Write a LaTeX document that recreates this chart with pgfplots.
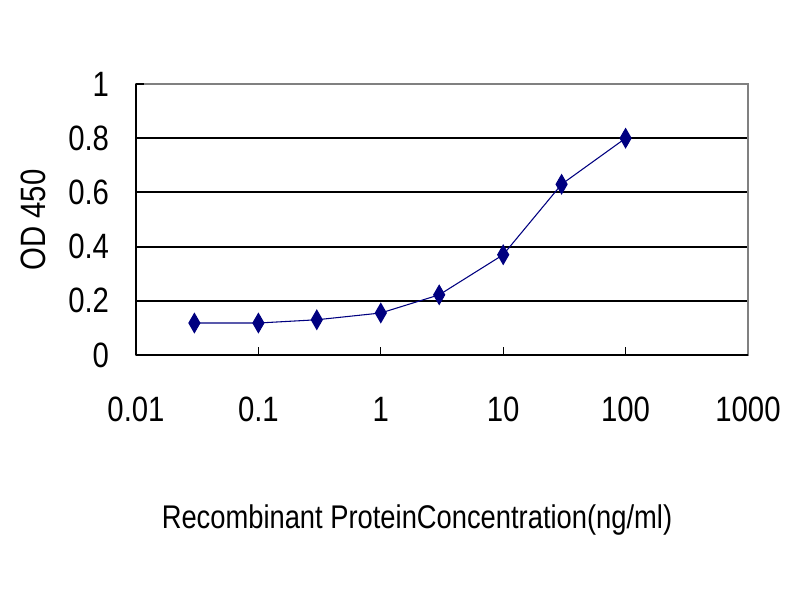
\documentclass[border=0pt]{standalone}
\usepackage{pgfplots}
\pgfplotsset{compat=1.18}
\usepackage{fontspec}
\setmainfont{Liberation Sans}
\definecolor{navyline}{RGB}{0,0,128}
\definecolor{boxgray}{RGB}{128,128,128}
\newcommand{\tl}[1]{\scalebox{1}[1.2]{#1}}
\begin{document}
\begin{tikzpicture}
\useasboundingbox[fill=white] (0,0) rectangle (600pt,450pt);
\begin{axis}[
    at={(102pt,183.75pt)}, anchor=south west,
    scale only axis,
    width=459pt, height=203.25pt,
    xmode=log,
    xmin=0.01, xmax=1000,
    ymin=0, ymax=1,
    xtick={0.01,0.1,1,10,100,1000},
    xticklabels={\tl{0.01},\tl{0.1},\tl{1},\tl{10},\tl{100},\tl{1000}},
    xminorticks=false,
    ytick={0,0.2,0.4,0.6,0.8},
    yticklabels={\tl{0},\tl{0.2},\tl{0.4},\tl{0.6},\tl{0.8}},
    extra y ticks={1},
    extra y tick labels={\tl{1}},
    extra y tick style={grid=none},
    tick align=inside,
    tick pos=left,
    major tick length=6pt,
    tick style={black, line width=0.8pt},
    ymajorgrids,
    grid style={black, line width=1.5pt},
    axis line style={boxgray, line width=1pt},
    ticklabel style={font=\fontsize{22}{22}\selectfont, inner sep=0pt},
    xticklabel style={anchor=center, yshift=-41pt},
    yticklabel style={anchor=east, xshift=-20pt},
    clip=false,
]
\addplot[navyline, line width=0.8pt, mark=diamond*, mark size=5.5pt,
    mark options={yscale=1.3, fill=navyline}] coordinates {
    (0.03,0.118) (0.1,0.118) (0.3,0.130) (1,0.155)
    (3,0.222) (10,0.37) (30,0.63) (100,0.80)
};
\draw[black, line width=1.2pt] (rel axis cs:0,0) -- (rel axis cs:0,1);
\draw[black, line width=1.2pt] (rel axis cs:0,0) -- (rel axis cs:1,0);
\end{axis}
\node[font=\fontsize{20.5}{20.5}\selectfont] at (312.75pt,60pt)
    {\tl{Recombinant ProteinConcentration(ng/ml)}};
\node[font=\fontsize{22}{22}\selectfont, rotate=90] at (24.75pt,285pt)
    {\tl{OD 450}};
\end{tikzpicture}
\end{document}
